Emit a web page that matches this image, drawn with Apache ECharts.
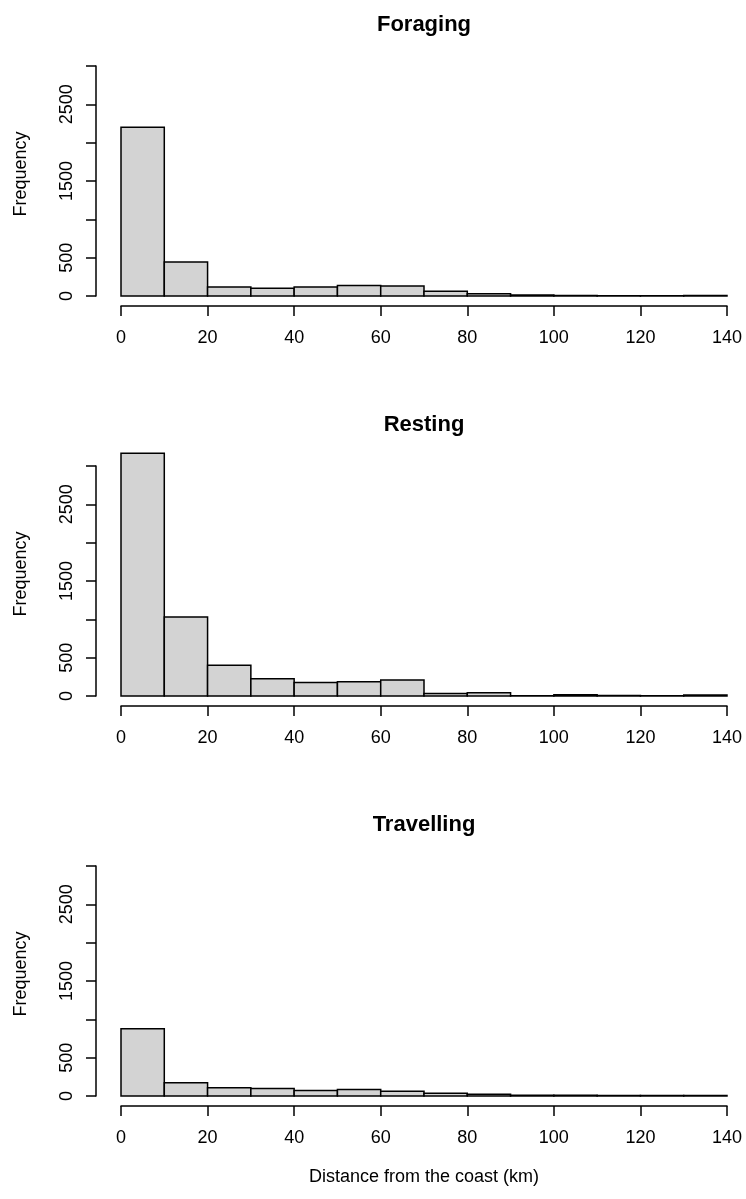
<!DOCTYPE html>
<html>
<head>
<meta charset="utf-8">
<script src="https://cdn.jsdelivr.net/npm/echarts@6/dist/echarts.min.js"></script>
<style>
  html, body { margin: 0; padding: 0; background: #fff; }
  #main { width: 746px; height: 1199px; }
</style>
</head>
<body>
<div id="main"></div>
<script>
"use strict";

// bin edges (km) and counts
const breaks = [0, 10, 20, 30, 40, 50, 60, 70, 80, 90, 100, 110, 120, 130, 140];
const foraging = [2200, 443, 117, 100, 117, 138, 130, 63, 29, 12, 8, 4, 3, 8];
const resting = [3165, 1029, 400, 226, 175, 187, 209, 34, 43, 4, 15, 5, 4, 12];
const travelling = [877, 174, 108, 99, 72, 86, 63, 36, 22, 11, 9, 7, 6, 5];
const panelTitles = ["Foraging", "Resting", "Travelling"];
const yTickLabels = [0, 500, 1500, 2500];

const font = "Liberation Sans, Arial, sans-serif";
const panels = [foraging, resting, travelling];
const tops = [66, 466, 866];

let myChart = echarts.init(document.getElementById('main'));

function histData(counts) {
  return counts.map((c, i) => [breaks[i], breaks[i + 1], c]);
}

function renderHist(params, api) {
  let p0 = api.coord([api.value(0), api.value(2)]);
  let p1 = api.coord([api.value(1), 0]);
  return {
    type: 'rect',
    shape: { x: p0[0], y: p0[1], width: p1[0] - p0[0], height: p1[1] - p0[1] },
    style: { fill: '#d3d3d3', stroke: '#000', lineWidth: 1.5 },
  };
}

let option = {
  backgroundColor: '#fff',
  animation: false,
  title: panelTitles.map((t, i) => ({
    text: t,
    left: 419,
    top: tops[i] - 57,
    textAlign: 'center',
    textStyle: { fontFamily: font, fontSize: 22, fontWeight: 'bold', color: '#000' },
  })),
  grid: tops.map(t => ({ left: 121, right: 19, top: t, height: 230 })),
  xAxis: tops.map((t, i) => ({
    type: 'value',
    gridIndex: i,
    min: 0,
    max: 140,
    interval: 20,
    offset: 10,
    axisLine: { onZero: false, lineStyle: { color: '#000', width: 1.5 } },
    axisTick: { length: 10, lineStyle: { color: '#000', width: 1.5 } },
    axisLabel: { fontFamily: font, fontSize: 18, color: '#000', margin: 23 },
    splitLine: { show: false },
    name: i === 2 ? 'Distance from the coast (km)' : '',
    nameLocation: 'middle',
    nameGap: 62,
    nameTextStyle: { fontFamily: font, fontSize: 18, color: '#000' },
  })),
  yAxis: tops.map((t, i) => ({
    type: 'value',
    gridIndex: i,
    min: 0,
    max: 3000,
    interval: 500,
    offset: 25,
    axisLine: { show: true, onZero: false, lineStyle: { color: '#000', width: 1.5 } },
    axisTick: { show: true, length: 10, lineStyle: { color: '#000', width: 1.5 } },
    axisLabel: {
      rotate: 90,
      fontFamily: font,
      fontSize: 18,
      color: '#000',
      margin: 20,
      formatter: v => yTickLabels.includes(v) ? String(v) : '',
    },
    splitLine: { show: false },
    name: 'Frequency',
    nameLocation: 'middle',
    nameGap: 66,
    nameTextStyle: { fontFamily: font, fontSize: 18, color: '#000', padding: [0, 0, 0, 14] },
  })),
  series: panels.map((counts, i) => ({
    type: 'custom',
    xAxisIndex: i,
    yAxisIndex: i,
    clip: false,
    renderItem: renderHist,
    encode: { x: [0, 1], y: 2 },
    data: histData(counts),
  })),
};

myChart.setOption(option);
</script>
</body>
</html>
